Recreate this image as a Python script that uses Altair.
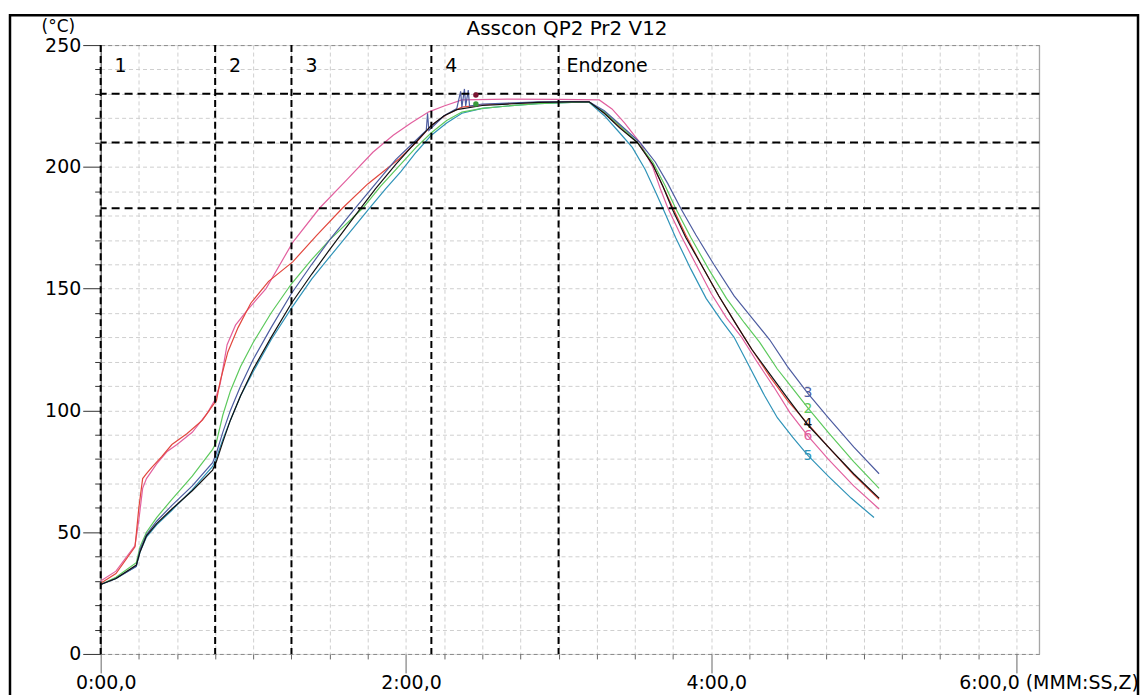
import altair as alt
import pandas as pd

# ---------------- data ----------------
# time in seconds, temperature in °C
t_1 = [0, 6, 13.5, 15, 16.5, 18, 20, 24, 28, 34, 40, 44, 45.5, 47, 50, 54, 59, 66, 75.5, 85, 95, 105, 117, 124, 130, 136, 142, 150, 160, 172, 185, 192,
       198, 204, 211, 217, 221, 225, 230, 236, 243, 250, 256, 263, 270, 278, 286, 296, 306]
T_1 = [29, 33, 44, 60, 72, 74, 76.5, 81, 86, 90.5, 96, 102, 104, 112, 124, 134, 144, 153, 161, 172, 183, 193, 203, 210, 217, 221.5, 224.5, 225.5, 226, 226.5, 226.7, 226.7,
       222, 216.5, 210, 201, 192, 183, 172, 160, 147, 135, 125, 114, 104, 94.5, 85, 73.5, 63.5]

t_2 = [0, 6, 14, 15.5, 18, 22, 28, 36, 44, 45.5, 48, 51, 55, 60, 67, 75, 83, 90, 103, 110, 117, 124, 130, 136, 142, 150, 160, 172, 185, 192,
       198, 204, 211, 217, 222, 226, 232, 239, 246, 253, 259, 266, 272, 278, 286, 296, 306]
T_2 = [28.5, 31.5, 37.5, 44, 50, 56, 63.5, 73, 84, 87, 98, 108, 118, 128, 140, 152, 162, 170, 183, 192, 200, 208, 214, 219, 222.5, 224, 225, 226, 226.5, 226.5,
       222.5, 217, 210, 202, 192, 183, 171, 158, 146, 136, 128, 117, 109, 101, 91, 79, 68]

t_3 = [0, 6, 14, 15.5, 18, 22, 28, 36, 44, 45.5, 48, 51, 55, 60, 67, 75, 83, 90, 100, 108, 116, 122, 126, 128, 128.5, 129, 135, 140, 141.5, 142, 143, 143.5, 144.5, 145, 150, 160, 172, 185, 192,
       198, 204, 212, 218, 223, 228, 234, 241, 249, 256, 263, 270, 278, 286, 296, 306]
T_3 = [28.5, 31, 36, 43, 49, 54.5, 61, 69, 78.5, 82.5, 91, 100, 110, 121, 134, 148, 160, 170, 183, 193, 203, 209, 213, 215, 222, 215, 221, 224, 231, 224.5, 232, 225, 231.5, 225, 225.8, 226.2, 226.7, 226.8, 226.7,
       223, 217.5, 210, 202, 193, 183, 172, 160, 147, 138, 129, 118, 107, 97, 85, 74]

t_4 = [0, 6, 14, 15.5, 18, 22, 28, 36, 44, 45.5, 48, 51, 55, 60, 67, 75, 83, 90, 100, 108, 116, 122, 126, 130, 135, 140, 150, 160, 172, 185, 192,
       198, 204, 211, 217, 221, 225, 230, 236, 243, 250, 256, 263, 270, 278, 286, 296, 306]
T_4 = [28.5, 31, 36.5, 42, 48.5, 53.5, 59.5, 67, 75.5, 79, 87, 96, 106, 117, 130, 144, 156, 166, 180, 191, 201, 208, 212.5, 217, 221, 223.5, 225.2, 225.8, 226.5, 226.7, 226.7,
       222, 216, 210, 201, 192, 182, 171, 160, 147, 135, 125, 115, 105, 94, 85, 74, 64]

t_5 = [0, 6, 14, 15.5, 18, 22, 28, 36, 44, 45.5, 48, 51, 55, 60, 67, 75, 83, 90, 105.6, 112, 118, 124, 130, 136, 142, 150, 160, 172, 185, 192,
       198, 204, 209, 214, 218, 221, 226, 232, 238, 244, 249, 255, 261, 266, 272, 278, 286, 295, 304]
T_5 = [28.5, 31, 36, 42, 48, 53, 59, 67.5, 77, 80.5, 88, 96, 106, 116, 129, 142, 154, 163, 183, 191, 198, 206, 213, 218, 222, 224, 225, 226, 226.5, 226.5,
       221, 214, 208, 199, 190, 183, 171, 158, 146, 137, 130, 118, 106, 97, 89, 81.5, 73, 64, 56]

t_6 = [0, 6, 13.5, 15, 16.5, 18, 22, 26, 30, 36, 42, 45, 47, 49.7, 53, 57.5, 65, 75.5, 86, 97, 107, 115, 122, 129, 135, 142, 160, 180, 196,
       201, 206, 212, 217, 220, 223, 228, 234, 240, 246, 252, 258, 265, 271, 278, 286, 296, 306]
T_6 = [30, 34, 44.5, 55, 68, 72, 78, 83, 86, 91, 99, 104.5, 111, 127, 135, 141, 150, 169, 183, 195, 206, 213, 218, 222.6, 225, 227.5, 227.8, 227.7, 227.5,
       223.8, 218, 210, 200, 191, 183, 172, 160, 148, 138, 130, 120, 109, 99, 89.5, 80, 69, 59.5]

series_names = ["1", "2", "3", "4", "5", "6"]
series_colors = ["#e2473d", "#5cc95c", "#4d5ca0", "#111111", "#2f93b8", "#e2609f"]
draw_order = ["6", "1", "5", "2", "3", "4"]

# process zones and limit lines
zone_starts = [0, 45, 75, 130, 180]
zone_names = ["1", "2", "3", "4", "Endzone"]
limit_temps = [230, 210, 183]

# end labels of the curves
label_names = ["3", "2", "4", "6", "5"]
label_t = [278, 278, 278, 278, 278]
label_T = [107.2, 100.6, 94.5, 89.6, 81.4]

# small logger markers at the peak
marker_names = ["1", "2"]
marker_t = [147.5, 147.5]
marker_T = [229.5, 225.8]
marker_colors = ["#7a1530", "#3a9a3a"]

# axes
x_tick_values = list(range(0, 361, 15))
y_tick_values = list(range(0, 251, 10))
x_major_values = [0, 120, 240, 360]
x_major_labels = ["0:00,0", "2:00,0", "4:00,0", "6:00,0 (MMM:SS,Z)"]
y_major_values = [0, 50, 100, 150, 200, 250]
x_max = 369
y_max = 250
title_text = "Asscon QP2 Pr2 V12"
y_title = "(°C)"

# ---------------- build tables ----------------
series_data = {"1": (t_1, T_1), "2": (t_2, T_2), "3": (t_3, T_3),
               "4": (t_4, T_4), "5": (t_5, T_5), "6": (t_6, T_6)}
rows = []
for name in draw_order:
    ts, Ts = series_data[name]
    for t, T in zip(ts, Ts):
        rows.append({"series": name, "t": t, "T": T})
df = pd.DataFrame(rows)

labels_df = pd.DataFrame({"series": label_names, "t": label_t, "T": label_T})
zones_df = pd.DataFrame({"t": zone_starts, "T": [239] * len(zone_starts), "name": zone_names})
limits_df = pd.DataFrame({"T": limit_temps})
markers_df = pd.DataFrame({"m": marker_names, "t": marker_t, "T": marker_T})

FONT = "DejaVu Sans"

xs = alt.Scale(domain=[0, x_max], nice=False, zero=False)
ys = alt.Scale(domain=[0, y_max], nice=False, zero=False)
cs = alt.Scale(domain=series_names, range=series_colors)

lab_expr = "''"
for v, lab in reversed(list(zip(x_major_values, x_major_labels))):
    lab_expr = f"datum.value === {v} ? '{lab}' : ({lab_expr})"
x_major_test = " || ".join(f"datum.value === {v}" for v in x_major_values)
y_major_test = " || ".join(f"datum.value === {v}" for v in y_major_values)

x_axis = alt.Axis(
    values=x_tick_values,
    tickCount=len(x_tick_values) + 1,
    labelExpr=lab_expr,
    grid=True,
    gridColor="#cfcfcf",
    gridDash=[4, 3],
    gridWidth=1,
    domain=False,
    tickColor="#666",
    tickWidth=1,
    tickSize={"condition": {"test": x_major_test, "value": 19}, "value": 5},
    labelAlign={"condition": {"test": "datum.value === 360", "value": "left"}, "value": "center"},
    labelOffset={"condition": {"test": "datum.value === 360", "value": -58}, "value": 5},
    labelPadding=1,
    labelFont=FONT,
    labelFontSize=19,
    labelColor="black",
    labelOverlap=False,
    labelFlush=False,
    labelBound=False,
    labelLimit=400,
    title=None,
)

y_axis = alt.Axis(
    values=y_tick_values,
    tickCount=len(y_tick_values) + 1,
    labelExpr=f"({y_major_test}) ? datum.label : ''",
    grid=True,
    gridColor={"condition": {"test": "datum.value === 0 || datum.value === 250", "value": "#8a8a8a"}, "value": "#cfcfcf"},
    gridDash=[4, 3],
    gridWidth=1,
    domain=True,
    domainColor="#444",
    domainWidth=1,
    tickColor="#333",
    tickWidth=1,
    tickSize={"condition": {"test": y_major_test, "value": 18}, "value": 6},
    labelPadding=2,
    labelFont=FONT,
    labelFontSize=19,
    labelColor="black",
    labelOverlap=False,
    labelFlush=False,
    labelBound=False,
    title=y_title,
    titleAngle=0,
    titleX=-43,
    titleY=-19,
    titleAlign="center",
    titleBaseline="middle",
    titleFont=FONT,
    titleFontSize=17,
    titleFontWeight="normal",
    titleColor="black",
)

X = alt.X("t:Q", scale=xs)
Y = alt.Y("T:Q", scale=ys)

lines = alt.Chart(df).mark_line(strokeWidth=1.2).encode(
    x=alt.X("t:Q", scale=xs, axis=x_axis),
    y=alt.Y("T:Q", scale=ys, axis=y_axis),
    color=alt.Color("series:N", scale=cs, legend=None),
    detail="series:N",
)

zones = alt.Chart(zones_df).mark_rule(color="black", strokeWidth=2, strokeDash=[7, 4]).encode(x=X)

zone_text = alt.Chart(zones_df[zones_df["name"] != "Endzone"]).mark_text(
    align="left", baseline="alphabetic", dx=14, font=FONT, fontSize=19, color="black"
).encode(x=X, y=Y, text="name:N")

end_text = alt.Chart(zones_df[zones_df["name"] == "Endzone"]).mark_text(
    align="left", baseline="alphabetic", dx=8, font=FONT, fontSize=19, color="black"
).encode(x=X, y=Y, text="name:N")

limits = alt.Chart(limits_df).mark_rule(color="black", strokeWidth=2, strokeDash=[8, 5]).encode(y=Y)

right_border = alt.Chart(pd.DataFrame({"t": [x_max]})).mark_rule(color="#9a9a9a", strokeWidth=1).encode(x=X)

end_labels = alt.Chart(labels_df).mark_text(font=FONT, fontSize=14, align="center", baseline="middle").encode(
    x=X, y=Y,
    text="series:N",
    color=alt.Color("series:N", scale=cs, legend=None),
)

markers = alt.Chart(markers_df).mark_point(filled=True, size=30, opacity=1).encode(
    x=X, y=Y,
    fill=alt.Fill("m:N", scale=alt.Scale(domain=marker_names, range=marker_colors), legend=None),
)

title_mark = alt.Chart(pd.DataFrame({"s": [title_text]})).mark_text(
    font=FONT, fontSize=20, align="center", baseline="alphabetic", color="black"
).encode(x=alt.value(468), y=alt.value(-10), text="s:N")

frame = alt.Chart(pd.DataFrame({"a": [0]})).mark_rect(
    fillOpacity=0, stroke="black", strokeWidth=2.5
).encode(x=alt.value(-91), x2=alt.value(1041), y=alt.value(-30), y2=alt.value(656))

chart = alt.layer(
    lines, right_border, limits, zones, zone_text, end_text, markers, end_labels, title_mark, frame,
).properties(
    width=942, height=611,
    padding={"left": 0, "top": 4, "right": 0, "bottom": 0},
).configure_view(stroke=None).configure_axis(
    labelOverlap=False, labelFlush=False, labelLimit=400
).configure(background="white")

chart.save("out.html", embed_options={"renderer": "svg", "actions": False})
